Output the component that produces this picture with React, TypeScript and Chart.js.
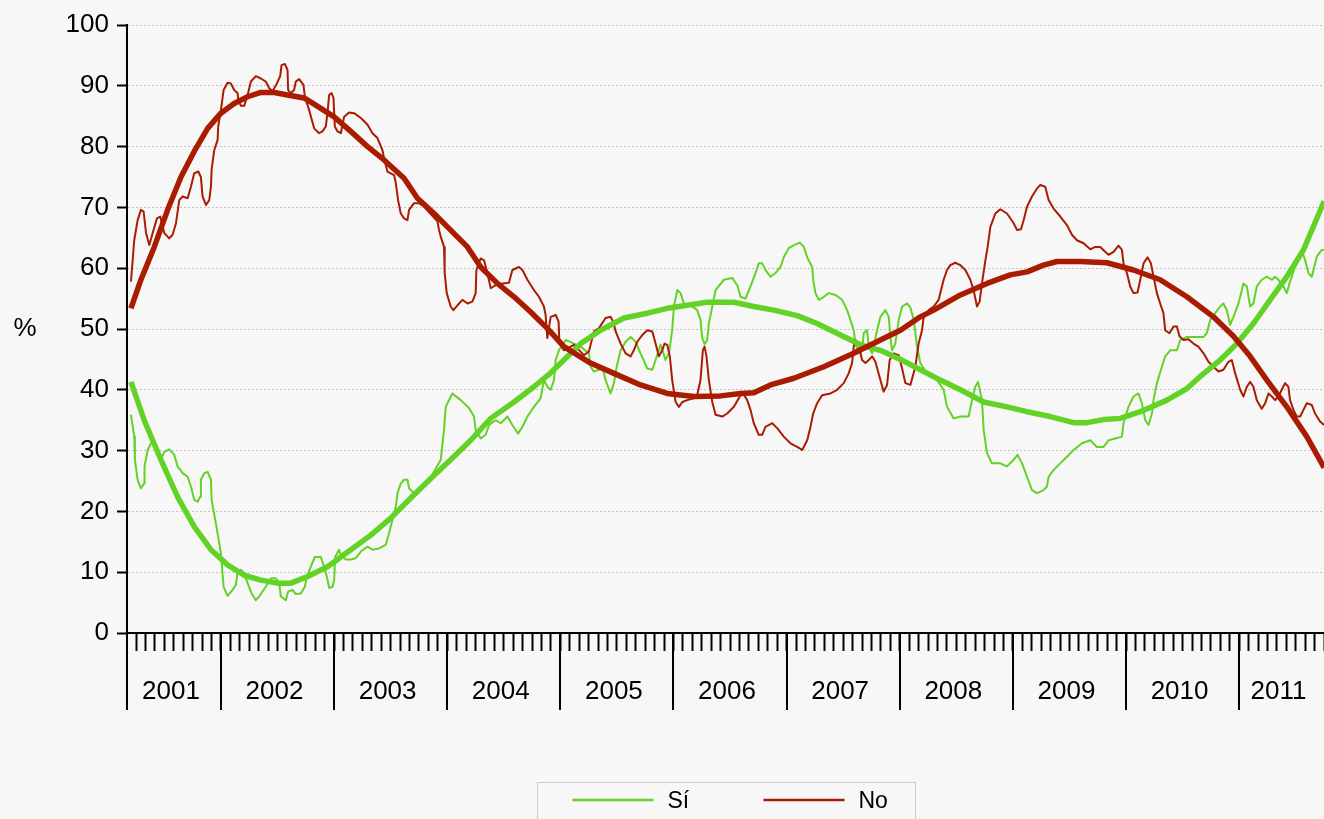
import React, { useEffect, useRef } from "react";
import { Chart, registerables } from "chart.js";

Chart.register(...registerables);

// ---- tick labels / categories ----
const yearLabels = ["2001", "2002", "2003", "2004", "2005", "2006", "2007", "2008", "2009", "2010", "2011"];
const seriesNames = ["Sí", "No"];
const xMin = 2001.17;
const xMax = 2011.75;

// ---- "Sí" (weekly series, decimal-year dates) ----
const siDates = [2001.205,2001.234,2001.240,2001.264,2001.293,2001.322,2001.325,2001.353,2001.382,2001.411,2001.441,2001.470,2001.499,2001.543,2001.588,2001.617,2001.662,2001.706,2001.735,2001.764,2001.794,2001.817,2001.823,2001.853,2001.883,2001.912,2001.918,2001.956,2002.000,2002.024,2002.059,2002.103,2002.132,2002.147,2002.177,2002.206,2002.236,2002.271,2002.309,2002.338,2002.397,2002.442,2002.486,2002.515,2002.530,2002.574,2002.594,2002.633,2002.662,2002.707,2002.742,2002.760,2002.795,2002.830,2002.883,2002.912,2002.936,2002.957,2002.987,2003.001,2003.010,2003.045,2003.060,2003.104,2003.148,2003.192,2003.237,2003.296,2003.340,2003.398,2003.457,2003.486,2003.516,2003.546,2003.561,2003.590,2003.619,2003.649,2003.663,2003.707,2003.780,2003.860,2003.943,2003.972,2003.987,2004.046,2004.120,2004.193,2004.237,2004.252,2004.296,2004.340,2004.370,2004.429,2004.473,2004.532,2004.576,2004.625,2004.665,2004.709,2004.767,2004.826,2004.855,2004.885,2004.915,2004.944,2004.959,2004.988,2005.047,2005.120,2005.179,2005.253,2005.267,2005.297,2005.341,2005.371,2005.400,2005.444,2005.474,2005.498,2005.533,2005.577,2005.621,2005.665,2005.709,2005.769,2005.813,2005.842,2005.886,2005.930,2005.960,2005.989,2006.004,2006.034,2006.063,2006.092,2006.166,2006.210,2006.239,2006.253,2006.275,2006.298,2006.313,2006.343,2006.372,2006.446,2006.520,2006.564,2006.593,2006.637,2006.681,2006.725,2006.754,2006.784,2006.813,2006.858,2006.902,2006.946,2006.975,2007.019,2007.064,2007.117,2007.152,2007.182,2007.226,2007.235,2007.255,2007.285,2007.329,2007.373,2007.432,2007.491,2007.535,2007.564,2007.593,2007.608,2007.638,2007.667,2007.682,2007.711,2007.726,2007.756,2007.800,2007.829,2007.873,2007.903,2007.917,2007.932,2007.961,2007.991,2008.021,2008.065,2008.094,2008.124,2008.153,2008.182,2008.241,2008.330,2008.388,2008.418,2008.477,2008.536,2008.609,2008.639,2008.668,2008.692,2008.727,2008.742,2008.771,2008.815,2008.889,2008.948,2009.007,2009.042,2009.081,2009.125,2009.169,2009.213,2009.271,2009.301,2009.316,2009.360,2009.419,2009.478,2009.537,2009.611,2009.684,2009.743,2009.802,2009.846,2009.905,2009.964,2009.978,2010.022,2010.066,2010.110,2010.140,2010.170,2010.199,2010.229,2010.243,2010.273,2010.317,2010.346,2010.390,2010.450,2010.479,2010.538,2010.596,2010.685,2010.714,2010.744,2010.788,2010.832,2010.861,2010.891,2010.920,2010.950,2010.994,2011.024,2011.038,2011.068,2011.097,2011.126,2011.156,2011.200,2011.245,2011.289,2011.318,2011.347,2011.392,2011.421,2011.450,2011.494,2011.539,2011.554,2011.583,2011.613,2011.642,2011.657,2011.686,2011.730,2011.751];
const siValues = [35.9,32.3,28.5,25.2,23.8,24.6,27.4,30.1,31.2,31.7,29.6,28.5,29.8,30.2,29.3,27.4,26.3,25.7,24.1,21.9,21.6,22.4,25.2,26.3,26.5,25.2,21.9,18.0,13.1,7.6,6.1,7.1,7.9,9.8,10.4,9.8,8.2,6.5,5.4,6.0,7.6,9.0,9.0,8.2,6.0,5.4,6.8,7.1,6.4,6.5,7.6,9.3,10.9,12.5,12.5,10.9,9.3,7.4,7.6,8.7,12.5,13.7,12.8,12.1,12.1,12.3,13.4,14.2,13.7,13.9,14.5,16.4,18.6,20.8,23.0,24.6,25.2,25.2,23.8,23.0,24.0,25.8,28.5,33.4,37.2,39.4,38.3,37.0,35.6,33.4,32.0,32.6,34.2,35.0,34.5,35.6,34.2,32.8,33.9,35.6,37.2,38.6,41.6,40.5,40.0,41.6,44.9,46.5,48.2,47.6,47.1,46.0,43.8,43.0,43.3,43.8,41.6,39.4,41.1,43.8,46.5,47.9,48.7,47.9,46.0,43.5,43.3,44.9,47.4,44.9,46.0,49.8,53.7,56.4,55.9,54.2,53.7,53.1,51.5,48.7,47.5,48.2,50.9,53.7,56.4,58.1,58.4,57.2,55.3,55.0,57.0,59.2,60.8,60.8,59.7,58.6,59.2,60.2,61.8,63.3,63.8,64.2,63.5,61.8,60.2,58.1,55.9,54.8,55.3,55.9,55.6,54.8,53.1,51.5,49.8,47.6,46.0,46.5,49.3,49.8,47.1,46.0,49.8,52.0,53.1,52.0,48.7,46.5,47.6,51.5,53.7,54.2,53.5,51.5,47.1,44.4,42.7,41.6,40.0,37.2,35.3,35.6,35.6,38.3,40.5,41.3,38.3,33.4,29.6,27.9,27.9,27.4,28.5,29.3,27.9,25.7,23.5,23.0,23.5,24.1,25.7,26.8,27.9,29.0,30.1,31.2,31.7,30.6,30.6,31.7,32.0,32.3,34.5,37.2,38.9,39.4,37.8,35.0,34.2,36.1,38.3,41.1,43.8,45.5,46.5,46.5,48.2,48.7,48.7,48.7,49.3,51.5,52.6,53.7,54.2,53.1,50.7,52.0,54.2,56.4,57.5,57.0,53.7,54.2,57.0,58.1,58.6,58.1,58.6,58.1,57.0,55.9,57.8,60.2,61.9,63.0,61.3,59.2,58.6,59.7,61.9,63.0,63.0];

// ---- "No" (weekly series) ----
const noDates = [2001.205,2001.234,2001.264,2001.293,2001.317,2001.338,2001.367,2001.397,2001.435,2001.464,2001.499,2001.543,2001.573,2001.603,2001.632,2001.662,2001.706,2001.735,2001.764,2001.800,2001.823,2001.838,2001.868,2001.897,2001.912,2001.918,2001.941,2001.971,2001.976,2002.000,2002.024,2002.059,2002.088,2002.117,2002.147,2002.153,2002.177,2002.206,2002.236,2002.265,2002.309,2002.353,2002.397,2002.427,2002.457,2002.495,2002.524,2002.536,2002.565,2002.589,2002.594,2002.618,2002.647,2002.662,2002.692,2002.730,2002.742,2002.780,2002.824,2002.868,2002.898,2002.927,2002.942,2002.957,2002.978,2002.995,2003.007,2003.031,2003.060,2003.075,2003.089,2003.133,2003.177,2003.237,2003.296,2003.340,2003.384,2003.428,2003.442,2003.472,2003.501,2003.531,2003.546,2003.566,2003.590,2003.619,2003.649,2003.663,2003.707,2003.751,2003.796,2003.914,2003.928,2003.943,2003.972,2003.978,2003.996,2004.031,2004.055,2004.091,2004.135,2004.179,2004.223,2004.252,2004.258,2004.296,2004.326,2004.355,2004.385,2004.429,2004.488,2004.546,2004.576,2004.635,2004.665,2004.709,2004.767,2004.811,2004.855,2004.870,2004.885,2004.915,2004.959,2004.985,2004.992,2005.032,2005.062,2005.120,2005.209,2005.253,2005.297,2005.341,2005.400,2005.444,2005.468,2005.489,2005.533,2005.577,2005.621,2005.650,2005.680,2005.724,2005.769,2005.813,2005.842,2005.871,2005.901,2005.921,2005.945,2005.968,2005.989,2006.019,2006.048,2006.078,2006.122,2006.180,2006.210,2006.239,2006.260,2006.275,2006.292,2006.313,2006.343,2006.372,2006.431,2006.475,2006.534,2006.593,2006.616,2006.652,2006.681,2006.710,2006.754,2006.784,2006.813,2006.873,2006.917,2006.975,2007.034,2007.094,2007.138,2007.182,2007.211,2007.235,2007.270,2007.314,2007.388,2007.447,2007.505,2007.549,2007.579,2007.593,2007.608,2007.638,2007.667,2007.697,2007.726,2007.756,2007.785,2007.829,2007.858,2007.888,2007.911,2007.947,2007.991,2008.021,2008.050,2008.094,2008.138,2008.167,2008.197,2008.212,2008.256,2008.300,2008.344,2008.388,2008.418,2008.447,2008.491,2008.536,2008.580,2008.624,2008.653,2008.683,2008.706,2008.727,2008.757,2008.777,2008.801,2008.845,2008.889,2008.948,2009.007,2009.036,2009.072,2009.095,2009.125,2009.169,2009.213,2009.242,2009.286,2009.316,2009.360,2009.419,2009.478,2009.522,2009.566,2009.625,2009.684,2009.728,2009.772,2009.816,2009.846,2009.890,2009.934,2009.964,2009.978,2010.008,2010.037,2010.066,2010.102,2010.126,2010.155,2010.190,2010.220,2010.249,2010.273,2010.302,2010.331,2010.346,2010.384,2010.420,2010.450,2010.473,2010.508,2010.552,2010.596,2010.640,2010.685,2010.729,2010.773,2010.817,2010.861,2010.905,2010.935,2010.965,2011.009,2011.038,2011.068,2011.097,2011.126,2011.156,2011.200,2011.230,2011.259,2011.289,2011.318,2011.347,2011.377,2011.406,2011.435,2011.450,2011.480,2011.509,2011.539,2011.568,2011.598,2011.642,2011.671,2011.715,2011.751];
const noValues = [57.8,64.6,67.9,69.6,69.3,65.8,63.8,65.8,68.2,68.5,65.8,64.9,65.5,67.4,71.2,71.8,71.5,73.4,75.6,75.9,75.0,71.8,70.4,71.2,73.4,76.2,79.4,81.1,83.3,86.0,89.3,90.5,90.4,89.3,88.8,87.7,86.7,86.7,88.5,90.7,91.6,91.2,90.7,89.6,89.1,90.4,91.6,93.4,93.6,92.6,89.3,88.8,89.3,90.7,91.1,90.1,88.2,86.0,83.0,82.2,82.5,83.3,85.5,88.5,88.8,88.0,83.3,82.5,82.2,83.6,84.9,85.6,85.5,84.7,83.6,82.2,81.4,79.4,78.1,75.9,75.6,75.3,74.0,71.2,69.0,68.2,67.9,69.6,70.7,70.7,70.1,67.7,66.3,65.2,63.5,59.2,55.9,53.7,53.1,53.9,54.8,54.2,54.5,55.9,59.7,61.6,61.3,59.2,56.7,57.2,57.5,57.6,59.7,60.2,59.7,58.1,56.4,55.3,53.7,52.3,48.5,52.0,52.3,51.2,47.6,46.5,46.8,47.4,45.7,46.3,49.6,50.1,51.8,52.0,51.2,49.6,47.6,46.0,45.5,46.5,47.9,49.0,49.8,49.6,47.6,45.5,46.5,47.6,47.4,45.5,41.6,38.0,37.2,38.0,38.3,38.6,39.1,41.6,46.5,47.1,45.5,41.6,38.0,35.9,35.6,36.1,37.2,39.1,39.4,38.3,36.7,34.5,32.6,32.6,33.9,34.5,33.7,32.3,31.2,30.6,30.1,31.7,33.9,36.1,37.8,39.1,39.4,40.0,41.1,42.7,44.4,47.1,48.2,47.4,44.9,44.4,44.9,45.5,44.6,41.6,39.7,40.8,44.9,46.0,45.7,43.5,41.1,40.8,43.8,47.6,49.8,52.0,53.1,53.7,54.8,58.1,59.7,60.5,60.9,60.5,59.7,58.1,56.4,53.7,54.5,57.5,61.3,63.5,66.8,69.0,69.7,69.0,67.4,66.3,66.4,67.9,70.1,71.8,73.1,73.7,73.4,71.2,69.8,68.5,67.1,65.5,64.6,64.1,63.1,63.5,63.5,62.7,62.2,62.7,63.7,63.0,60.8,59.2,57.0,55.9,56.0,58.1,60.8,61.8,60.8,58.1,55.9,54.2,52.6,49.8,49.3,50.4,50.4,48.8,48.2,48.3,47.6,47.1,46.0,44.6,43.8,43.0,43.3,44.6,44.9,42.7,40.0,38.9,40.5,41.3,40.5,38.3,36.9,37.8,39.4,38.9,38.3,38.9,40.0,41.1,40.5,38.3,36.7,35.6,35.6,36.7,37.8,37.5,36.1,34.8,34.2];

// ---- trends (smoothed) ----
const siTrendDates = [2001.205,2001.322,2001.470,2001.617,2001.764,2001.912,2002.059,2002.206,2002.353,2002.501,2002.618,2002.766,2002.942,2003.148,2003.325,2003.501,2003.678,2003.855,2004.031,2004.208,2004.385,2004.591,2004.767,2004.915,2005.032,2005.179,2005.356,2005.562,2005.769,2005.945,2006.122,2006.298,2006.534,2006.710,2006.887,2007.094,2007.270,2007.476,2007.653,2007.829,2008.006,2008.182,2008.359,2008.536,2008.742,2008.948,2009.125,2009.331,2009.537,2009.655,2009.802,2009.949,2010.126,2010.362,2010.538,2010.656,2010.832,2010.980,2011.126,2011.274,2011.421,2011.568,2011.751];
const siTrendValues = [41.3,35.0,28.5,22.4,17.5,13.7,11.2,9.5,8.7,8.2,8.2,9.3,10.9,13.7,16.1,18.9,22.2,25.4,28.5,31.7,35.3,38.0,40.5,42.8,44.9,47.6,49.8,51.8,52.6,53.4,53.9,54.4,54.4,53.7,53.1,52.2,50.9,49.0,47.4,46.5,45.0,43.3,41.6,40.0,38.0,37.2,36.4,35.6,34.6,34.6,35.1,35.3,36.4,38.3,40.2,42.2,44.9,47.6,50.9,54.8,58.6,63.0,71.0];
const noTrendDates = [2001.205,2001.293,2001.411,2001.529,2001.647,2001.764,2001.883,2002.000,2002.117,2002.236,2002.353,2002.471,2002.589,2002.736,2002.883,2003.001,2003.148,2003.296,2003.442,2003.619,2003.737,2003.884,2004.002,2004.179,2004.296,2004.444,2004.591,2004.738,2004.885,2005.032,2005.267,2005.474,2005.709,2005.945,2006.180,2006.416,2006.593,2006.710,2006.858,2007.064,2007.329,2007.593,2007.829,2008.006,2008.182,2008.300,2008.536,2008.772,2008.977,2009.125,2009.271,2009.390,2009.596,2009.831,2010.066,2010.302,2010.538,2010.773,2010.950,2011.097,2011.245,2011.421,2011.598,2011.751];
const noTrendValues = [53.4,58.1,63.5,69.6,75.0,79.2,83.0,85.5,87.1,88.2,88.9,88.9,88.5,88.0,86.3,84.9,82.5,80.0,77.8,74.8,71.5,69.0,66.8,63.5,60.2,57.5,55.3,52.8,50.1,47.1,44.4,42.7,40.8,39.4,38.9,39.0,39.4,39.5,40.8,41.9,43.8,46.0,48.2,49.8,52.0,53.1,55.6,57.5,58.9,59.4,60.5,61.1,61.1,60.9,59.7,58.1,55.3,52.0,48.8,45.5,41.6,37.2,32.3,27.2];

const GREEN = "#62d326";
const RED = "#a91c02";
const FONT = '"Liberation Sans", Arial, Helvetica, sans-serif';

const toPoints = (dates: number[], values: number[]) => dates.map((x, i) => ({ x, y: values[i] }));

const decorPlugin = {
  id: "decor",
  afterDraw(chart: any) {
    const { ctx, chartArea, scales } = chart;
    const xs = scales.x;
    const { left, right, top, bottom } = chartArea;
    ctx.save();
    ctx.strokeStyle = "#000";
    ctx.lineWidth = 2;
    // y axis line continues below the x axis
    ctx.beginPath();
    ctx.moveTo(left, bottom);
    ctx.lineTo(left, bottom + 77);
    ctx.stroke();
    // year boundaries and labels
    ctx.fillStyle = "#000";
    ctx.font = `26px ${FONT}`;
    ctx.textAlign = "center";
    ctx.textBaseline = "middle";
    yearLabels.forEach((lab) => {
      const yr = Number(lab);
      if (yr > xMin && yr < xMax) {
        const px = Math.round(xs.getPixelForValue(yr));
        ctx.beginPath();
        ctx.moveTo(px, bottom);
        ctx.lineTo(px, bottom + 77);
        ctx.stroke();
      }
      const a = xs.getPixelForValue(Math.max(yr, xMin));
      const b = xs.getPixelForValue(Math.min(yr + 1, xMax));
      ctx.fillText(lab, (a + b) / 2 - 3, bottom + 59);
    });
    // "%" unit label
    ctx.fillText("%", 25, (top + bottom) / 2);
    // legend
    const c = (left + right) / 2;
    ctx.strokeStyle = "#cccccc";
    ctx.lineWidth = 1;
    ctx.strokeRect(Math.round(c - 189) + 0.5, 782.5, 378, 80);
    const items = [
      { name: seriesNames[0], color: GREEN, x0: c - 153 },
      { name: seriesNames[1], color: RED, x0: c + 38 },
    ];
    ctx.font = `23px ${FONT}`;
    ctx.textAlign = "left";
    items.forEach((it) => {
      ctx.strokeStyle = it.color;
      ctx.lineWidth = 2.5;
      ctx.beginPath();
      ctx.moveTo(it.x0, 800);
      ctx.lineTo(it.x0 + 81, 800);
      ctx.stroke();
      ctx.fillStyle = "#000";
      ctx.fillText(it.name, it.x0 + 95, 802);
    });
    ctx.restore();
  },
};

export default function App() {
  const ref = useRef<HTMLCanvasElement>(null);
  useEffect(() => {
    if (!ref.current) return;
    const monthTicks: { value: number }[] = [];
    yearLabels.forEach((lab) => {
      for (let m = 0; m < 12; m++) {
        const v = Number(lab) + m / 12;
        if (v > xMin && v <= xMax) monthTicks.push({ value: v });
      }
    });
    const chart = new Chart(ref.current, {
      type: "line",
      data: {
        datasets: [
          { label: "No (tendencia)", data: toPoints(noTrendDates, noTrendValues), borderColor: RED, borderWidth: 5.5, pointRadius: 0, tension: 0, borderJoinStyle: "round", order: 0 },
          { label: "Sí (tendencia)", data: toPoints(siTrendDates, siTrendValues), borderColor: GREEN, borderWidth: 5.5, pointRadius: 0, tension: 0, borderJoinStyle: "round", order: 1 },
          { label: seriesNames[1], data: toPoints(noDates, noValues), borderColor: RED, borderWidth: 2, pointRadius: 0, tension: 0, borderJoinStyle: "round", order: 2 },
          { label: seriesNames[0], data: toPoints(siDates, siValues), borderColor: GREEN, borderWidth: 2, pointRadius: 0, tension: 0, borderJoinStyle: "round", order: 3 },
        ] as any,
      },
      options: {
        animation: false,
        responsive: false,
        devicePixelRatio: 1,
        layout: { padding: { top: 25, right: 0, bottom: 0, left: 0 } },
        plugins: { legend: { display: false }, tooltip: { enabled: false } },
        scales: {
          x: {
            type: "linear",
            min: xMin,
            max: xMax,
            afterBuildTicks: (s: any) => { s.ticks = monthTicks.map((t) => ({ value: t.value })); },
            afterFit: (s: any) => { s.height = 186; },
            ticks: { display: false },
            grid: { drawOnChartArea: false, drawTicks: true, tickLength: 18, tickColor: "#000", tickWidth: 2, color: "#000" },
            border: { display: true, color: "#000", width: 2 },
          },
          y: {
            min: 0,
            max: 100,
            afterFit: (s: any) => { s.width = 127; },
            ticks: { stepSize: 10, color: "#000", font: { family: FONT, size: 26 }, padding: 8 },
            grid: { color: "#c4c4c4", lineWidth: 1, tickColor: "#000", tickWidth: 2, tickLength: 10 },
            border: { display: true, color: "#000", width: 2, dash: [2, 2] },
          },
        },
      } as any,
      plugins: [decorPlugin],
    });
    return () => chart.destroy();
  }, []);
  return (
    <div style={{ position: "fixed", left: 0, top: 0, width: 1324, height: 819, background: "#f7f7f7", overflow: "hidden" }}>
      <canvas ref={ref} width={1324} height={819} style={{ display: "block" }} />
    </div>
  );
}
